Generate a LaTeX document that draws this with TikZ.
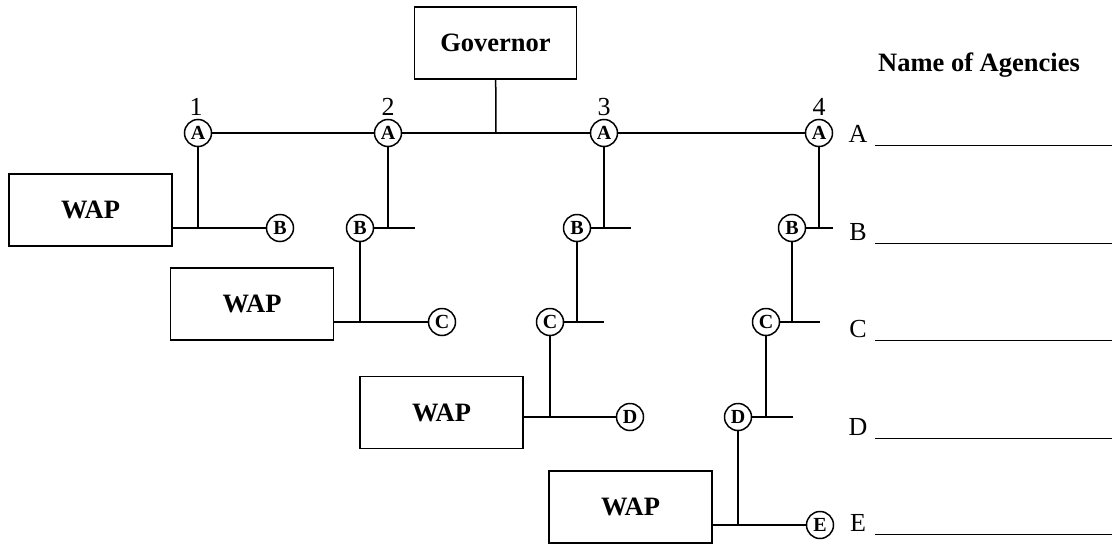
\documentclass[tikz,border=0pt]{standalone}
\usepackage{fontspec}
\setmainfont{Liberation Serif}
\newcommand{\agtxt}[1]{\raisebox{-1.5pt}{\fontsize{20}{22}\selectfont\bfseries #1}}
\begin{document}
\begin{tikzpicture}[x=1pt,y=-1pt,line width=1.5pt,
  box/.style={draw,rectangle,inner sep=0pt,minimum width=163pt,minimum height=72pt,font=\fontsize{26.5}{30}\selectfont\bfseries},
  agent/.style={draw,circle,inner sep=0pt,minimum size=27pt},
  num/.style={font=\fontsize{26}{30}\selectfont},
  lab/.style={font=\fontsize{26}{30}\selectfont,anchor=base},
  uline/.style={line width=1pt}]
\useasboundingbox (0,0) rectangle (1112,544);
% Governor
\node[box,minimum width=162pt] (gov) at (495.5,43) {Governor};
\node[font=\fontsize{26.5}{30}\selectfont\bfseries] (title) at (979,65) {Name of Agencies};
% A row
\node[agent] (A1) at (198,133) {\agtxt{A}};
\node[agent] (A2) at (388,133) {\agtxt{A}};
\node[agent] (A3) at (604,133) {\agtxt{A}};
\node[agent] (A4) at (819,133) {\agtxt{A}};
\node[num] (n1) at (196,107) {1};
\node[num] (n2) at (388,107) {2};
\node[num] (n3) at (604,107) {3};
\node[num] (n4) at (819,107) {4};
\coordinate (gj) at (496,133);
\draw (gov) -- (gj);
\draw (A1) -- (A2);
\draw (A2) -- (A3);
\draw (A3) -- (A4);
% column 1
\node[box] (W1) at (90.5,210) {WAP};
\node[agent] (B1) at (280,228) {\agtxt{B}};
\coordinate (j1) at (198,228);
\draw (A1) -- (j1);
\draw (W1.east |- B1) -- (B1);
% column 2
\node[box] (W2) at (252,304) {WAP};
\node[agent] (B2) at (360,228) {\agtxt{B}};
\node[agent] (C2) at (442,322) {\agtxt{C}};
\coordinate (j2) at (388,228);
\coordinate (s2) at (415,228);
\coordinate (k2) at (360,322);
\draw (A2) -- (j2);
\draw (B2) -- (s2);
\draw (B2) -- (k2);
\draw (W2.east |- C2) -- (C2);
% column 3
\node[box] (W3) at (441.5,412.5) {WAP};
\node[agent] (B3) at (577,228) {\agtxt{B}};
\node[agent] (C3) at (550,322) {\agtxt{C}};
\node[agent] (D3) at (630,417) {\agtxt{D}};
\coordinate (j3) at (604,228);
\coordinate (s3) at (631,228);
\coordinate (k3) at (577,322);
\coordinate (t3) at (604,322);
\coordinate (m3) at (550,417);
\draw (A3) -- (j3);
\draw (B3) -- (s3);
\draw (B3) -- (k3);
\draw (C3) -- (t3);
\draw (C3) -- (m3);
\draw (W3.east |- D3) -- (D3);
% column 4
\node[box] (W4) at (630.5,507) {WAP};
\node[agent] (B4) at (792,228) {\agtxt{B}};
\node[agent] (C4) at (766,322) {\agtxt{C}};
\node[agent] (D4) at (738,417) {\agtxt{D}};
\node[agent] (E4) at (820,525) {\agtxt{E}};
\coordinate (j4) at (819,228);
\coordinate (s4) at (833,228);
\coordinate (k4) at (792,322);
\coordinate (t4) at (820,322);
\coordinate (m4) at (766,417);
\coordinate (u4) at (793,417);
\coordinate (p4) at (738,525);
\draw (A4) -- (j4);
\draw (B4) -- (s4);
\draw (B4) -- (k4);
\draw (C4) -- (t4);
\draw (C4) -- (m4);
\draw (D4) -- (u4);
\draw (D4) -- (p4);
\draw (W4.east |- E4) -- (E4);
% agency names
\node[lab] (LA) at (858,142) {A};
\node[lab] (LB) at (858,240) {B};
\node[lab] (LC) at (858,337) {C};
\node[lab] (LD) at (858,435) {D};
\node[lab] (LE) at (858,531) {E};
\coordinate (ua0) at (875,145); \coordinate (ua1) at (1112,145);
\coordinate (ub0) at (875,243); \coordinate (ub1) at (1112,243);
\coordinate (uc0) at (875,340); \coordinate (uc1) at (1112,340);
\coordinate (ud0) at (875,438); \coordinate (ud1) at (1112,438);
\coordinate (ue0) at (875,534); \coordinate (ue1) at (1112,534);
\draw[uline] (ua0) -- (ua1);
\draw[uline] (ub0) -- (ub1);
\draw[uline] (uc0) -- (uc1);
\draw[uline] (ud0) -- (ud1);
\draw[uline] (ue0) -- (ue1);
\end{tikzpicture}
\end{document}
